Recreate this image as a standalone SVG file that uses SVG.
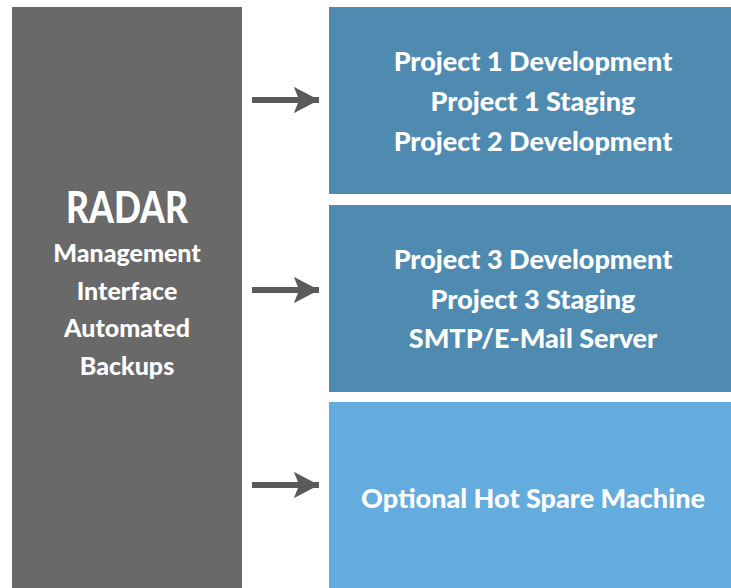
<svg xmlns="http://www.w3.org/2000/svg" width="731" height="588" viewBox="0 0 731 588">
  <style>
    .t { font-family: Lato, "Open Sans", "DejaVu Sans", sans-serif; font-weight: 900; fill: #ffffff; text-anchor: middle; }
    .big { font-size: 27px; }
    .side { font-size: 25px; }
    .title { font-size: 44px; }
  </style>
  <defs>
    <marker id="ah" markerWidth="4.2" markerHeight="4.4" refX="4.2" refY="2.2" orient="auto" markerUnits="strokeWidth">
      <path d="M0,0 L4.2,2.2 L0,4.4 L0.9,2.2 Z" fill="#5a5a5a"/>
    </marker>
  </defs>
  <rect width="731" height="588" fill="#ffffff"/>
  <g id="radar">
    <rect x="12" y="7" width="230" height="581" fill="#696969"/>
    <text class="t title" x="127" y="223" textLength="122" lengthAdjust="spacingAndGlyphs">RADAR</text>
    <text class="t side" x="127" y="262">Management</text>
    <text class="t side" x="127" y="300">Interface</text>
    <text class="t side" x="127" y="337">Automated</text>
    <text class="t side" x="127" y="375">Backups</text>
  </g>
  <g id="server1">
    <rect x="329" y="7" width="402" height="187" fill="#4f8ab1"/>
    <text class="t big" x="533" y="71">Project 1 Development</text>
    <text class="t big" x="533" y="111">Project 1 Staging</text>
    <text class="t big" x="533" y="151">Project 2 Development</text>
  </g>
  <g id="server2">
    <rect x="329" y="205" width="402" height="187" fill="#4f8ab1"/>
    <text class="t big" x="533" y="269">Project 3 Development</text>
    <text class="t big" x="533" y="309">Project 3 Staging</text>
    <text class="t big" x="533" y="348">SMTP/E-Mail Server</text>
  </g>
  <g id="spare">
    <rect x="329" y="402" width="402" height="186" fill="#64acde"/>
    <text class="t big" x="533" y="508">Optional Hot Spare Machine</text>
  </g>
  <g id="connectors" stroke="#5a5a5a" stroke-width="6" fill="none">
    <line x1="252" y1="100" x2="319" y2="100" marker-end="url(#ah)"/>
    <line x1="252" y1="290" x2="319" y2="290" marker-end="url(#ah)"/>
    <line x1="252" y1="485" x2="319" y2="485" marker-end="url(#ah)"/>
  </g>
</svg>
